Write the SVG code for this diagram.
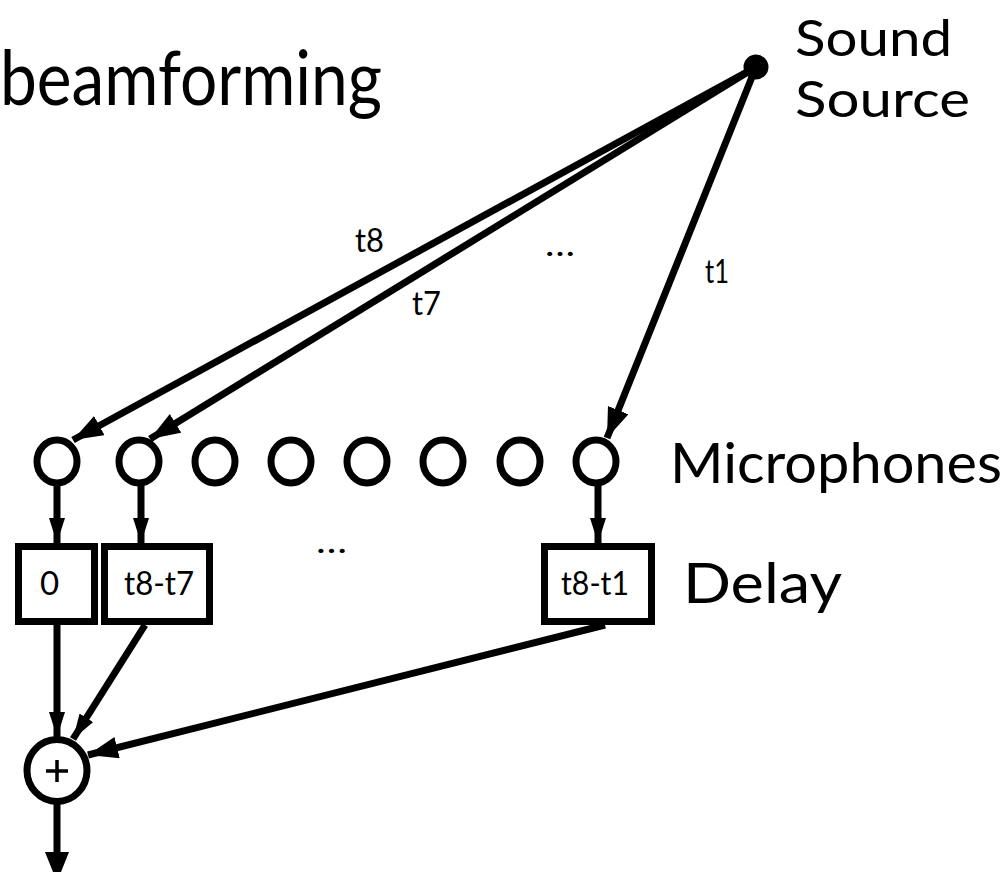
<svg xmlns="http://www.w3.org/2000/svg" width="1007" height="872" viewBox="0 0 1007 872">
<style>
text{font-family:Lato,"Open Sans","Liberation Sans",sans-serif;fill:#000}
.big{font-size:56px}
.src{font-size:50px}
.title{font-size:76px}
.lbl{font-size:33px}
.mic{fill:#fff;stroke:#000;stroke-width:7}
.box{fill:#fff;stroke:#000;stroke-width:7}
.c{fill:none;stroke:#000;stroke-width:7}
</style>
<defs>
<marker id="ah" markerUnits="userSpaceOnUse" markerWidth="32" markerHeight="24" refX="30" refY="11" orient="auto"><path d="M0,0 L30,11 L0,22 z" fill="#000"/></marker>
<marker id="as" markerUnits="userSpaceOnUse" markerWidth="28" markerHeight="20" refX="25" refY="8" orient="auto"><path d="M0,0 L25,8 L0,16 z" fill="#000"/></marker>
<marker id="ab" markerUnits="userSpaceOnUse" markerWidth="34" markerHeight="28" refX="30" refY="12" orient="auto"><path d="M0,0 L30,12 L0,24 z" fill="#000"/></marker>
</defs>
<text class="title" x="0" y="105" textLength="382" lengthAdjust="spacingAndGlyphs">beamforming</text>
<g id="source">
<circle cx="756" cy="67" r="12.5" fill="#000"/>
<text class="src" x="795" y="56" textLength="157" lengthAdjust="spacingAndGlyphs">Sound</text>
<text class="src" x="795" y="117" textLength="175" lengthAdjust="spacingAndGlyphs">Source</text>
</g>
<g id="microphones">
<ellipse class="mic" cx="57" cy="461.5" rx="20" ry="21.5"/>
<ellipse class="mic" cx="139" cy="461.5" rx="20" ry="21.5"/>
<ellipse class="mic" cx="215" cy="461.5" rx="20" ry="21.5"/>
<ellipse class="mic" cx="291" cy="461.5" rx="20" ry="21.5"/>
<ellipse class="mic" cx="367" cy="461.5" rx="20" ry="21.5"/>
<ellipse class="mic" cx="443" cy="461.5" rx="20" ry="21.5"/>
<ellipse class="mic" cx="520" cy="461.5" rx="20" ry="21.5"/>
<ellipse class="mic" cx="596" cy="461.5" rx="20" ry="21.5"/>
<text class="big" x="670" y="483" textLength="332" lengthAdjust="spacingAndGlyphs">Microphones</text>
</g>
<g id="delays">
<rect class="box" x="18.5" y="546.5" width="76" height="75"/>
<text class="lbl" x="40" y="595">0</text>
<rect class="box" x="104.5" y="546.5" width="105" height="75"/>
<text class="lbl" x="124" y="595" textLength="70" lengthAdjust="spacingAndGlyphs">t8-t7</text>
<rect class="box" x="544.5" y="546.5" width="107" height="75"/>
<text class="lbl" x="561" y="595" textLength="68" lengthAdjust="spacingAndGlyphs">t8-t1</text>
<text class="lbl" x="316" y="553" textLength="31" lengthAdjust="spacingAndGlyphs">…</text>
<text class="big" x="683" y="603" textLength="159" lengthAdjust="spacingAndGlyphs">Delay</text>
</g>
<g id="sum">
<ellipse class="mic" cx="57" cy="770.5" rx="30" ry="31"/>
<path d="M46,771 H68 M57,760 V782" stroke="#000" stroke-width="3.5"/>
</g>
<g id="connectors">
<line class="c" x1="756" y1="67" x2="73" y2="440" marker-end="url(#ah)"/>
<line class="c" x1="756" y1="67" x2="150" y2="439" marker-end="url(#ah)"/>
<line class="c" x1="756" y1="67" x2="607" y2="438" marker-end="url(#ah)"/>
<line class="c" x1="57" y1="484" x2="57" y2="543" marker-end="url(#as)"/>
<line class="c" x1="141" y1="484" x2="141" y2="543" marker-end="url(#as)"/>
<line class="c" x1="598" y1="484" x2="598" y2="543" marker-end="url(#as)"/>
<line class="c" x1="57" y1="625" x2="57" y2="737" marker-end="url(#as)"/>
<line class="c" x1="145" y1="625" x2="73" y2="739" marker-end="url(#as)"/>
<line class="c" x1="605" y1="625" x2="88" y2="755" marker-end="url(#ah)"/>
<line class="c" x1="57" y1="804" x2="57" y2="882" marker-end="url(#ab)"/>
</g>
<g id="labels">
<text class="lbl" x="355" y="252" textLength="29" lengthAdjust="spacingAndGlyphs">t8</text>
<text class="lbl" x="412" y="315" textLength="29" lengthAdjust="spacingAndGlyphs">t7</text>
<text class="lbl" x="545" y="256" textLength="30" lengthAdjust="spacingAndGlyphs">…</text>
<text class="lbl" x="705" y="283" textLength="24" lengthAdjust="spacingAndGlyphs">t1</text>
</g>
</svg>
